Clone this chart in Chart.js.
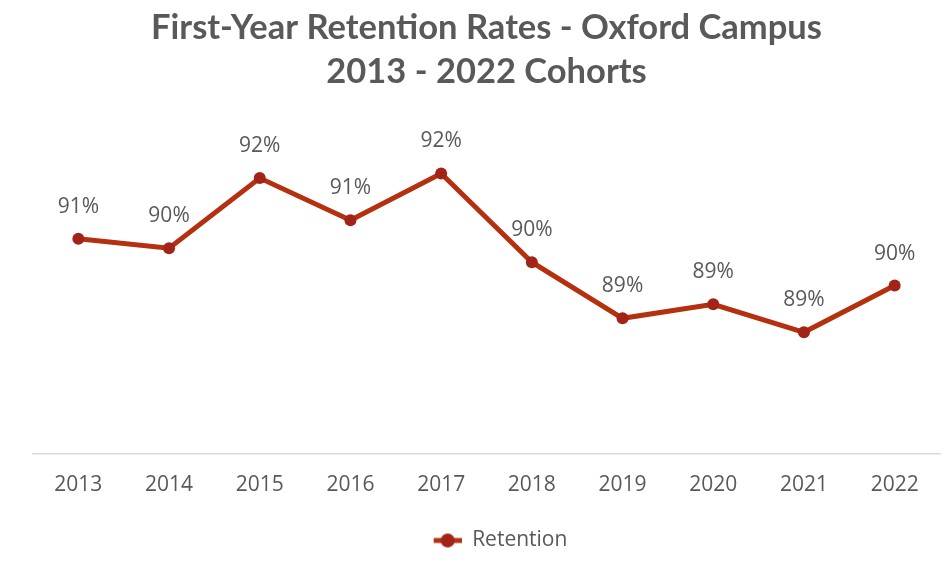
<!DOCTYPE html>
<html>
<head>
<meta charset="utf-8">
<title>First-Year Retention Rates</title>
<script src="https://cdn.jsdelivr.net/npm/chart.js@4/dist/chart.umd.min.js"></script>
<style>
    html, body { margin: 0; padding: 0; background: #ffffff; }
    #wrap { width: 952px; height: 577px; }
</style>
</head>
<body>
<div id="wrap"><canvas id="retentionChart"></canvas></div>
<script>
// Cohort years and first-year retention (%)
const cohorts = ['2013', '2014', '2015', '2016', '2017', '2018', '2019', '2020', '2021', '2022'];
const retention = [90.6, 90.4, 91.9, 91.0, 92.0, 90.1, 88.9, 89.2, 88.6, 89.6];
const titleLines = ['First-Year Retention Rates - Oxford Campus', '2013 - 2022 Cohorts'];

const LINE_COLOR = '#b4300f';
const POINT_COLOR = '#a22418';
const TEXT_COLOR = '#595959';

// line-with-marker swatch for the legend; left half kept empty so the
// visible mark sits a little right of the legend box centre
function legendSwatch() {
    const c = document.createElement('canvas');
    c.width = 56;
    c.height = 16;
    const g = c.getContext('2d');
    g.strokeStyle = LINE_COLOR;
    g.lineWidth = 5;
    g.beginPath();
    g.moveTo(28, 8);
    g.lineTo(56, 8);
    g.stroke();
    g.fillStyle = POINT_COLOR;
    g.beginPath();
    g.arc(42, 8, 7, 0, Math.PI * 2);
    g.fill();
    return c;
}

// value labels above each point
const pointLabels = {
    id: 'pointLabels',
    afterDatasetsDraw(chart) {
        const ctx = chart.ctx;
        const meta = chart.getDatasetMeta(0);
        ctx.save();
        ctx.font = '21px "Open Sans"';
        ctx.fillStyle = TEXT_COLOR;
        ctx.textAlign = 'center';
        ctx.textBaseline = 'middle';
        meta.data.forEach((pt, i) => {
            const v = chart.data.datasets[0].data[i];
            ctx.fillText(Math.round(v) + '%', pt.x, pt.y - 32);
        });
        ctx.restore();
    }
};

document.addEventListener('DOMContentLoaded', function() {
    const swatch = legendSwatch();
    const ctx = document.getElementById('retentionChart').getContext('2d');
    new Chart(ctx, {
        type: 'line',
        data: {
            labels: cohorts,
            datasets: [{
                label: 'Retention',
                data: retention,
                borderColor: LINE_COLOR,
                backgroundColor: POINT_COLOR,
                borderWidth: 5,
                pointRadius: 6,
                pointBorderWidth: 0,
                pointBackgroundColor: POINT_COLOR,
                tension: 0,
                fill: false
            }]
        },
        options: {
            responsive: true,
            maintainAspectRatio: false,
            animation: false,
            layout: {
                padding: { left: 33, right: 12, top: 0, bottom: 16 }
            },
            scales: {
                x: {
                    offset: true,
                    grid: { display: false },
                    border: { display: true, color: '#d9d9d9', width: 1.5 },
                    ticks: {
                        color: TEXT_COLOR,
                        font: { family: '"Open Sans"', size: 21 },
                        padding: 11
                    }
                },
                y: {
                    display: false,
                    min: 86,
                    max: 93
                }
            },
            plugins: {
                title: {
                    display: true,
                    text: titleLines,
                    color: TEXT_COLOR,
                    font: { family: 'Lato', size: 34.5, weight: 'bold', lineHeight: 1.3 },
                    padding: { top: 5, bottom: 32 }
                },
                legend: {
                    position: 'bottom',
                    labels: {
                        usePointStyle: true,
                        pointStyleWidth: 56,
                        color: TEXT_COLOR,
                        font: { family: '"Open Sans"', size: 21 },
                        padding: 21,
                        generateLabels(chart) {
                            const items = Chart.defaults.plugins.legend.labels.generateLabels(chart);
                            items.forEach(it => { it.pointStyle = swatch; });
                            return items;
                        }
                    }
                },
                tooltip: { enabled: false }
            }
        },
        plugins: [pointLabels]
    });
});
</script>
</body>
</html>
